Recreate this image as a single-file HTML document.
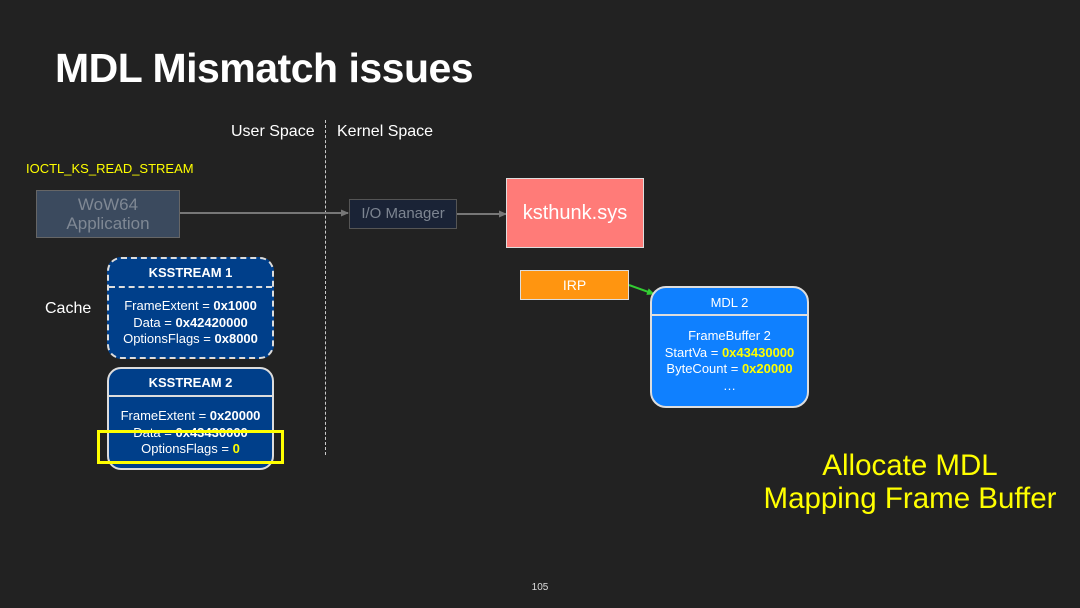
<!DOCTYPE html><html><head><style>
body{margin:0;width:1080px;height:608px;background:#222222;position:relative;overflow:hidden;font-family:"Liberation Sans",sans-serif;color:#fff}
.a{position:absolute}
.box{position:absolute;box-sizing:border-box;text-align:center}
b{font-weight:bold}
.y{color:#ffff00}
</style></head><body>
<div class="a" style="left:55px;top:45px;font-size:41px;font-weight:bold;letter-spacing:-0.5px">MDL Mismatch issues</div>
<div class="a" style="left:231px;top:123px;font-size:16px;">User Space</div>
<div class="a" style="left:337px;top:123px;font-size:16px;">Kernel Space</div>
<div class="a" style="left:325px;top:120px;height:335px;border-left:1.5px dashed #ccc"></div>
<div class="a" style="left:26px;top:161px;font-size:13px;color:#ffff00">IOCTL_KS_READ_STREAM</div>
<div class="box" style="left:36px;top:190px;width:144px;height:48px;background:#3b4a5e;border:1px solid #666;color:#7f8894;font-size:17px;line-height:19px;padding-top:4px">WoW64<br>Application</div>
<svg class="a" style="left:0;top:0" width="1080" height="608">
<defs><marker id="m" markerWidth="8" markerHeight="8" refX="7" refY="4" orient="auto" markerUnits="userSpaceOnUse" viewBox="0 0 8 8"><path d="M0,0.5L8,4L0,7.5z" fill="#777"/></marker>
<marker id="g" markerWidth="8" markerHeight="8" refX="7" refY="4" orient="auto" markerUnits="userSpaceOnUse" viewBox="0 0 8 8"><path d="M0,0.5L8,4L0,7.5z" fill="#33cc33"/></marker></defs>
<line x1="180" y1="213" x2="348" y2="213" stroke="#777" stroke-width="2" marker-end="url(#m)"/>
<line x1="457" y1="214" x2="506" y2="214" stroke="#777" stroke-width="2" marker-end="url(#m)"/>
<line x1="629" y1="285" x2="654" y2="294" stroke="#33cc33" stroke-width="2" marker-end="url(#g)"/>
</svg>
<div class="box" style="left:349px;top:199px;width:108px;height:30px;background:#1a2336;border:1px solid #555;color:#7d8591;font-size:15px;line-height:28px">I/O Manager</div>
<div class="box" style="left:506px;top:178px;width:138px;height:70px;background:#ff7b78;border:1px solid #ddd;font-size:20px;line-height:68px">ksthunk.sys</div>
<div class="box" style="left:520px;top:270px;width:109px;height:30px;background:#ff9510;border:1px solid #ddd;font-size:14px;line-height:28px">IRP</div>
<div class="a" style="left:45px;top:300px;font-size:16px;">Cache</div>
<div class="box" style="left:107px;top:257px;width:167px;height:102px;background:#003f8a;border:2px dashed #ddd;border-radius:14px;font-size:13px">
<div style="height:27px;line-height:28px;border-bottom:2px dashed #ddd;font-weight:bold">KSSTREAM 1</div>
<div style="line-height:16.5px;padding-top:10px">FrameExtent = <b>0x1000</b><br>Data = <b>0x42420000</b><br>OptionsFlags = <b>0x8000</b></div></div>
<div class="box" style="left:107px;top:367px;width:167px;height:103px;background:#003f8a;border:2px solid #ddd;border-radius:14px;font-size:13px">
<div style="height:26px;line-height:28px;border-bottom:2px solid #ddd;font-weight:bold">KSSTREAM 2</div>
<div style="line-height:16.5px;padding-top:11px">FrameExtent = <b>0x20000</b><br>Data = <b>0x43430000</b><br>OptionsFlags = <b class="y">0</b></div></div>
<div class="a" style="left:97px;top:430px;width:181px;height:28px;border:3px solid #ffff00"></div>
<div class="box" style="left:650px;top:286px;width:159px;height:122px;background:#0f80ff;border:2px solid #ddd;border-radius:16px;font-size:13px">
<div style="height:26px;line-height:30px;border-bottom:2px solid #ddd">MDL 2</div>
<div style="line-height:16.5px;padding-top:12px">FrameBuffer 2<br>StartVa = <b class="y">0x43430000</b><br>ByteCount = <b class="y">0x20000</b><br>…</div></div>
<div class="a" style="left:730px;top:449px;width:360px;text-align:center;font-size:29.5px;line-height:33px;color:#ffff00;">Allocate MDL<br>Mapping Frame Buffer</div>
<div class="a" style="left:0;top:582px;width:1080px;text-align:center;font-size:10px;color:#ddd">105</div>
</body></html>
